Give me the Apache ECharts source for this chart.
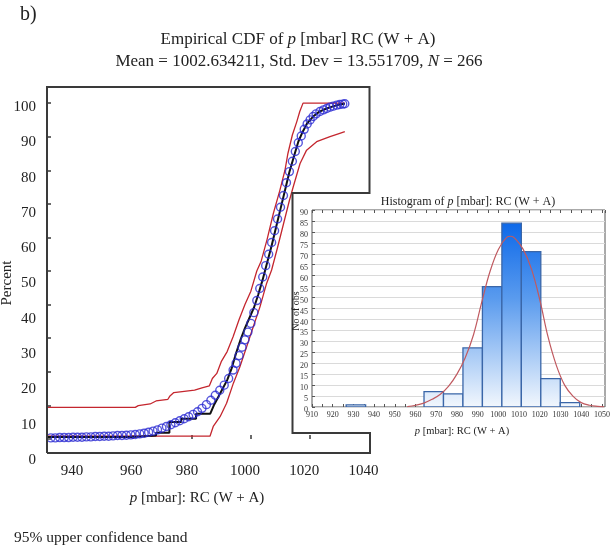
<!DOCTYPE html>
<html><head><meta charset="utf-8">
<script src="https://cdn.jsdelivr.net/npm/echarts@6/dist/echarts.min.js"></script>
<style>html,body{margin:0;padding:0;background:#fff}#c{width:613px;height:547px}</style>
</head><body><div id="c"></div>
<script>
// ---------------- data ----------------
const cdfXTicks = [940, 960, 980, 1000, 1020, 1040];
const cdfYTicks = [0, 10, 20, 30, 40, 50, 60, 70, 80, 90, 100];

// black step line (empirical CDF), [p, percent]
const ecdfLine = [
 [931.2,0.6],[960,0.6],[960,1.0],[968,1.0],[968,1.8],[972.5,1.8],[972.5,5.0],[976.5,5.0],[976.5,6.0],
 [981.5,6.0],[981.5,7.5],[986.3,7.5],[987.5,10],[989,12.5],[990.5,15],[992,17.5],[993.5,21],[995,25.5],
 [996.5,29.5],[998,33],[999.5,36],[1001,39],[1002.5,43],[1004,47.5],[1005.5,52.5],[1007,57.5],[1008.5,63],
 [1010,68.5],[1011.5,74],[1013,79.5],[1014.5,84],[1016,88.5],[1017.5,91.5],[1019,94],[1021,96],[1023,97.4],
 [1025.5,98.4],[1028,99.1],[1030,99.6],[1031.7,99.8]
];
// blue circles
const ecdfPoints = [
 [931,0.3],[932.5,0.3],[934,0.3],[935.5,0.4],[937,0.4],[938.5,0.4],[940,0.5],[941.5,0.5],[943,0.5],
 [944.5,0.6],[946,0.6],[947.5,0.7],[949,0.7],[950.5,0.8],[952,0.8],[953.5,0.9],[955,1.0],[956.5,1.0],
 [958,1.1],[959.5,1.2],[961,1.3],[962.5,1.5],[964,1.7],[965.5,2.0],[967,2.3],[968.5,2.7],[970,3.2],
 [971.5,3.7],[973,4.2],[974.5,4.8],[976,5.4],[977.5,6.0],[979,6.6],[980.5,7.3],[982,8.1],[983.5,9.1],
 [985,10.2],[986.5,11.5],[988,13.0],[989.5,14.5],[991,16.0],[992.5,18.0],[994,20.5],[995,22.5],[996,24.8],
 [997,27.3],[998,29.5],[999,31.8],[1000,34.4],[1001,37.6],[1002,41.2],[1003,44.8],[1004,48.2],[1005,51.6],
 [1006,55.0],[1007,58.5],[1008,62.0],[1009,65.5],[1010,69.0],[1011,72.5],[1012,76.3],[1013,79.6],[1014,82.7],
 [1015,85.6],[1016,88.2],[1017,90.2],[1018,92.2],[1019,93.8],[1020,95.0],[1021,96.0],[1022,96.8],[1023.3,97.5],
 [1024.5,98.0],[1025.6,98.4],[1026.7,98.8],[1027.8,99.1],[1029,99.4],[1030,99.6],[1031,99.7],[1031.7,99.8]
];
const upperBand = [
 [931.2,9.4],[961,9.4],[962,9.9],[966,10.4],[968,11.3],[972,11.8],[972.7,12.8],[974,13.8],[981,14.5],
 [983.5,15.2],[986,15.8],[987,18],[988.5,19.5],[990,23],[992,26],[994,30.4],[996,35.5],[998,40],[1000,44],
 [1002,50],[1003.5,53],[1005.5,59.5],[1007.6,67.2],[1009.8,74.1],[1011.5,80],[1012.5,85],[1014,90.5],
 [1015.5,94.5],[1016.5,97.5],[1017.6,100],[1031.7,100]
];
const lowerBand = [
 [931.2,0.8],[986.2,0.8],[987.3,3.7],[989.6,6.6],[991.8,10.6],[994.1,16.6],[996.3,21.5],[998.6,27.5],
 [1000.8,33.4],[1003.1,39.4],[1005.3,46.3],[1007,50.3],[1009,57],[1011,64],[1013,71],[1014.3,75.1],
 [1016.6,82],[1018.8,86],[1022.2,88.5],[1026.7,90],[1030,91],[1031.7,91.5]
];

// histogram inset
const histXTicks = [910, 920, 930, 940, 950, 960, 970, 980, 990, 1000, 1010, 1020, 1030, 1040, 1050];
const histYTicks = [0, 5, 10, 15, 20, 25, 30, 35, 40, 45, 50, 55, 60, 65, 70, 75, 80, 85, 90];
const binLow  = [926.5, 935.9, 945.3, 954.7, 964.1, 973.5, 982.9, 992.3, 1001.7, 1011.1, 1020.5, 1029.9];
const binHigh = [935.9, 945.3, 954.7, 964.1, 973.5, 982.9, 992.3, 1001.7, 1011.1, 1020.5, 1029.9, 1039.3];
const binCounts = [1, 0, 0, 0, 7, 6, 27, 55, 84, 71, 13, 2];
const normalX = [956, 960, 964, 968, 972, 976, 980, 984, 988, 992, 996, 1000, 1004, 1006, 1008, 1012, 1016, 1020, 1024, 1028, 1032, 1036, 1040, 1044, 1048, 1051];
const normalY = [0.2, 0.8, 1.8, 3.5, 5.8, 9.5, 15, 22.5, 33, 48, 62, 72, 77.5, 78, 77, 72, 63, 49, 32, 19, 10, 5, 2, 0.8, 0.3, 0.1];

// ---------------- layout / style ----------------
const SERIF = '"Liberation Serif", "Times New Roman", serif';
const MAIN = {left: 47, top: 87, width: 323, height: 366};
const INSET = {left: 292.5, top: 193, bottom: 433};
const HIST = {left: 312, top: 210, width: 293, height: 197};
const FRAME = '#3a3a3a';

// per-label offsets reproducing the reference's label placement
const yRich = {}; cdfYTicks.forEach(v => { const d = 21 - 0.17 * v; yRich['y' + v] = {fontFamily: SERIF, fontSize: 15, color: '#222', padding: [2 * d, 0, 0, 0]}; });
const xRich = {}; cdfXTicks.forEach(v => { const d = v <= 960 ? 1 : (v === 980 ? 4.5 : 6); xRich['x' + v] = {fontFamily: SERIF, fontSize: 15, color: '#222', padding: [0, 2 * d, 0, 0]}; });
const hRich = {}; histYTicks.forEach(v => { const d = 3 + v * 0.0; hRich['h' + v] = {fontFamily: SERIF, fontSize: 8, color: '#333', padding: [2 * d, 0, 0, 0]}; });

const chart = echarts.init(document.getElementById('c'), null, {renderer: 'canvas'});
const it = (size) => ({fontFamily: SERIF, fontSize: size, fontStyle: 'italic', fill: '#222'});
const rm = (size) => ({fontFamily: SERIF, fontSize: size, fill: '#222'});
function txt(x, y, text, size, align, rot) {
  return {type: 'text', x: x, y: y, rotation: rot || 0, z: 120,
    style: {text: text, fontFamily: SERIF, fontSize: size, fill: '#222', align: align || 'center', verticalAlign: 'middle',
      rich: {i: it(size), r: rm(size)}}};
}

const frame = [
  [MAIN.left, MAIN.top + MAIN.height], [MAIN.left, MAIN.top], [MAIN.left + MAIN.width - 0.5, MAIN.top],
  [MAIN.left + MAIN.width - 0.5, INSET.top], [INSET.left, INSET.top], [INSET.left, INSET.bottom],
  [MAIN.left + MAIN.width, INSET.bottom], [MAIN.left + MAIN.width, MAIN.top + MAIN.height],
  [MAIN.left, MAIN.top + MAIN.height]
];

const histData = binLow.map((lo, i) => [lo, binHigh[i], binCounts[i]]);
const barFill = {type: 'linear', x: 0, y: HIST.top, x2: 0, y2: HIST.top + HIST.height, global: true,
  colorStops: [{offset: 0, color: '#0060e8'}, {offset: 0.45, color: '#5a9bee'}, {offset: 1, color: '#f2f7fd'}]};

chart.setOption({
  backgroundColor: '#fff',
  animation: false,
  grid: [
    {left: MAIN.left, top: MAIN.top, width: MAIN.width, height: MAIN.height, show: false},
    {left: HIST.left, top: HIST.top, width: HIST.width, height: HIST.height, show: true, borderColor: '#555', borderWidth: 1, z: 100, backgroundColor: 'transparent'}
  ],
  xAxis: [
    {type: 'value', gridIndex: 0, min: 931.2, max: 1040.2,
      axisLine: {show: false}, splitLine: {show: false},
      axisTick: {show: true, inside: true, length: 4, customValues: cdfXTicks, lineStyle: {color: FRAME, width: 1.5}},
      axisLabel: {customValues: cdfXTicks, margin: 11, formatter: v => '{x' + v + '|' + v + '}', rich: xRich}},
    {type: 'value', gridIndex: 1, min: 910, max: 1051.5, interval: 5, z: 100,
      axisLine: {show: false}, splitLine: {show: false},
      axisTick: {show: true, inside: true, length: 3, lineStyle: {color: '#555'}},
      axisLabel: {margin: 4, fontFamily: SERIF, fontSize: 8, color: '#333', showMinLabel: true, showMaxLabel: false,
        formatter: v => (v % 10 === 0 ? String(v) : '')}},
    {type: 'value', gridIndex: 1, position: 'top', min: 910, max: 1051.5, interval: 5, z: 100,
      axisLine: {show: false}, splitLine: {show: false}, axisLabel: {show: false},
      axisTick: {show: true, inside: true, length: 3, lineStyle: {color: '#555'}}}
  ],
  yAxis: [
    {type: 'value', gridIndex: 0, min: -4.2, max: 104.8,
      axisLine: {show: false}, splitLine: {show: false},
      axisTick: {show: true, inside: true, length: 4, customValues: cdfYTicks, lineStyle: {color: FRAME, width: 1.5}},
      axisLabel: {customValues: cdfYTicks, margin: 11, formatter: v => '{y' + v + '|' + v + '}', rich: yRich}},
    {type: 'value', gridIndex: 1, min: 0, max: 90, interval: 5, z: 100,
      axisLine: {show: false},
      splitLine: {show: true, lineStyle: {color: '#dadada', width: 1}},
      axisTick: {show: true, inside: true, length: 3, lineStyle: {color: '#555'}},
      axisLabel: {margin: 4, formatter: v => '{h' + v + '|' + v + '}', rich: hRich}}
  ],
  series: [
    {type: 'line', name: 'upper', xAxisIndex: 0, yAxisIndex: 0, data: upperBand, showSymbol: false,
      lineStyle: {color: '#c4262e', width: 1.3}, z: 2},
    {type: 'line', name: 'lower', xAxisIndex: 0, yAxisIndex: 0, data: lowerBand, showSymbol: false,
      lineStyle: {color: '#c4262e', width: 1.3}, z: 2},
    {type: 'line', name: 'ecdf', xAxisIndex: 0, yAxisIndex: 0, data: ecdfLine, showSymbol: false,
      lineStyle: {color: '#111', width: 2}, z: 3},
    {type: 'scatter', name: 'points', xAxisIndex: 0, yAxisIndex: 0, data: ecdfPoints, symbol: 'circle', symbolSize: 8,
      itemStyle: {color: 'rgba(0,0,0,0)', borderColor: '#2a2ad2', borderWidth: 1.4}, z: 4},
    {type: 'custom', name: 'hist', xAxisIndex: 1, yAxisIndex: 1, data: histData, z: 105, clip: true,
      renderItem: function (params, api) {
        const lo = api.value(0), hi = api.value(1), c = api.value(2);
        if (!c) return null;
        const p0 = api.coord([lo, c]); const p1 = api.coord([hi, 0]);
        return {type: 'rect', shape: {x: p0[0], y: p0[1], width: p1[0] - p0[0], height: p1[1] - p0[1]},
          style: {fill: barFill, stroke: '#3a66a8', lineWidth: 1.3}};
      }},
    {type: 'line', name: 'normal', xAxisIndex: 1, yAxisIndex: 1, data: normalX.map((x, i) => [x, normalY[i]]),
      showSymbol: false, smooth: 0.4, lineStyle: {color: '#c05a60', width: 1.2}, z: 110}
  ],
  graphic: [
    {type: 'rect', z: 50, shape: {x: INSET.left, y: INSET.top, width: 613 - INSET.left, height: INSET.bottom - INSET.top}, style: {fill: '#fff'}},
    {type: 'polyline', z: 60, shape: {points: frame}, style: {stroke: FRAME, lineWidth: 2, fill: null}},
    txt(20, 15, 'b)', 20, 'left'),
    txt(298, 40, 'Empirical CDF of {i|p} [mbar] RC (W + A)', 17),
    txt(299, 62, 'Mean = 1002.634211, Std. Dev = 13.551709, {i|N} = 266', 17),
    txt(197, 498, '{i|p} [mbar]: RC (W + A)', 15),
    txt(7, 283, 'Percent', 15, 'center', Math.PI / 2),
    txt(14, 538, '95% upper confidence band', 15.5, 'left'),
    txt(468, 202, 'Histogram of {i|p} [mbar]: RC (W + A)', 12),
    txt(296, 311, 'No of obs', 10, 'center', Math.PI / 2),
    txt(462, 431, '{i|p} [mbar]: RC (W + A)', 10.5)
  ]
});
</script>
</body></html>
